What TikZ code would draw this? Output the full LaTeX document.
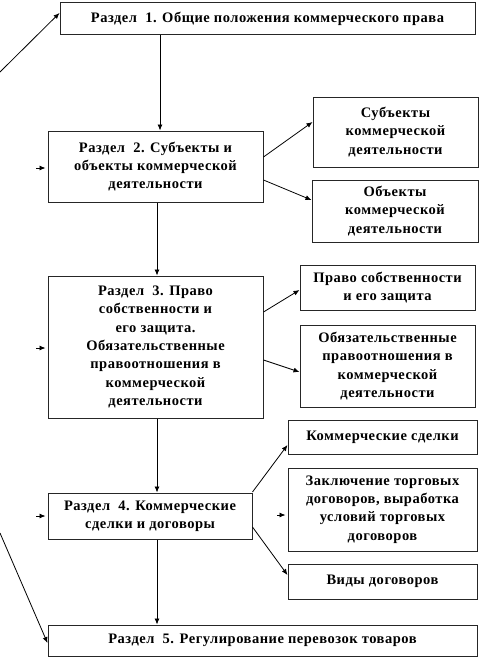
\documentclass[tikz,border=0pt]{standalone}
\usepackage{fontspec}
\setmainfont{Liberation Serif}
\newfontfamily\boxfont{Liberation Serif}[LetterSpace=3.5]
\usetikzlibrary{arrows.meta,calc}
\begin{document}
\begin{tikzpicture}[x=1pt,y=-1pt,
  box/.style={draw=black!85,line width=1pt,fill=white,inner sep=2pt,align=center,
    font=\boxfont\bfseries\fontsize{14.5}{18.3}\selectfont},
  arr/.style={draw=black,line width=0.8pt,-{Latex[length=6pt,width=5pt]}}]
\useasboundingbox (0,0) rectangle (481,661);
\node[box,minimum width=415pt,minimum height=32pt] (b1) at (267.5,19) {Раздел~ 1. Общие положения коммерческого права};
\node[box,minimum width=215pt,minimum height=71pt] (b2) at (155.5,166.5) {Раздел~ 2. Субъекты и\\ объекты коммерческой\\ деятельности};
\node[box,minimum width=165pt,minimum height=70pt] (s1) at (395.5,132) {Субъекты\\ коммерческой\\ деятельности};
\node[box,minimum width=166pt,minimum height=62pt] (s2) at (395,211) {Объекты\\ коммерческой\\ деятельности};
\node[box,minimum width=215pt,minimum height=142pt] (b3) at (155.5,347) {Раздел~ 3. Право\\ собственности и\\ его защита.\\ Обязательственные\\ правоотношения в\\ коммерческой\\ деятельности};
\node[box,minimum width=175pt,minimum height=45pt] (p1) at (387.5,287.5) {Право собственности\\ и его защита};
\node[box,minimum width=175pt,minimum height=82pt] (p2) at (387.5,366) {Обязательственные\\ правоотношения в\\ коммерческой\\ деятельности};
\node[box,minimum width=204pt,minimum height=46pt] (b4) at (150,516) {Раздел~ 4. Коммерческие\\ сделки и договоры};
\node[box,minimum width=189pt,minimum height=34pt] (k1) at (382.5,437) {Коммерческие сделки};
\node[box,minimum width=189pt,minimum height=83pt] (k2) at (382.5,509.5) {Заключение торговых\\ договоров, выработка\\ условий торговых\\ договоров};
\node[box,minimum width=189pt,minimum height=35pt] (k3) at (382.5,581.5) {Виды договоров};
\node[box,minimum width=429pt,minimum height=31pt] (b5) at (262.5,640.5) {Раздел~ 5. Регулирование перевозок товаров};
% vertical connectors
\coordinate (va) at (160,0);
\coordinate (vb) at (157,0);
\draw[arr] (b1.south -| va) -- (b2.north -| va);
\draw[arr] (b2.south -| vb) -- (b3.north -| vb);
\draw[arr] (b3.south -| vb) -- (b4.north -| vb);
\draw[arr] (b4.south -| vb) -- (b5.north -| vb);
% side connectors
\draw[arr] (b2.east |- 0,157) -- (s1.west |- 0,122);
\draw[arr] (b2.east |- 0,180) -- (s2.west |- 0,200);
\draw[arr] (b3.east |- 0,312) -- (p1.west |- 0,290);
\draw[arr] (b3.east |- 0,360) -- (p2.west |- 0,372);
\draw[arr] (b4.east |- 0,492) -- (k1.west |- 0,445);
\draw[arr] (b4.east |- 0,527) -- (k3.west |- 0,575);
% short stubs
\coordinate (t2) at (36,168);
\coordinate (t3) at (36,348);
\coordinate (t4) at (36,516);
\coordinate (tk) at (277,515);
\draw[arr] (t2) -- ($(b2.west |- t2)+(-2,0)$);
\draw[arr] (t3) -- ($(b3.west |- t3)+(-2,0)$);
\draw[arr] (t4) -- ($(b4.west |- t4)+(-2,0)$);
\draw[arr] (tk) -- ($(k2.west |- tk)+(-2,0)$);
% long left lines
\coordinate (l1) at (0,72);
\coordinate (l5) at (0,533);
\draw[arr] (l1) -- (b1.west |- 0,13);
\draw[arr] (l5) -- (b5.west |- 0,643);
\end{tikzpicture}
\end{document}
